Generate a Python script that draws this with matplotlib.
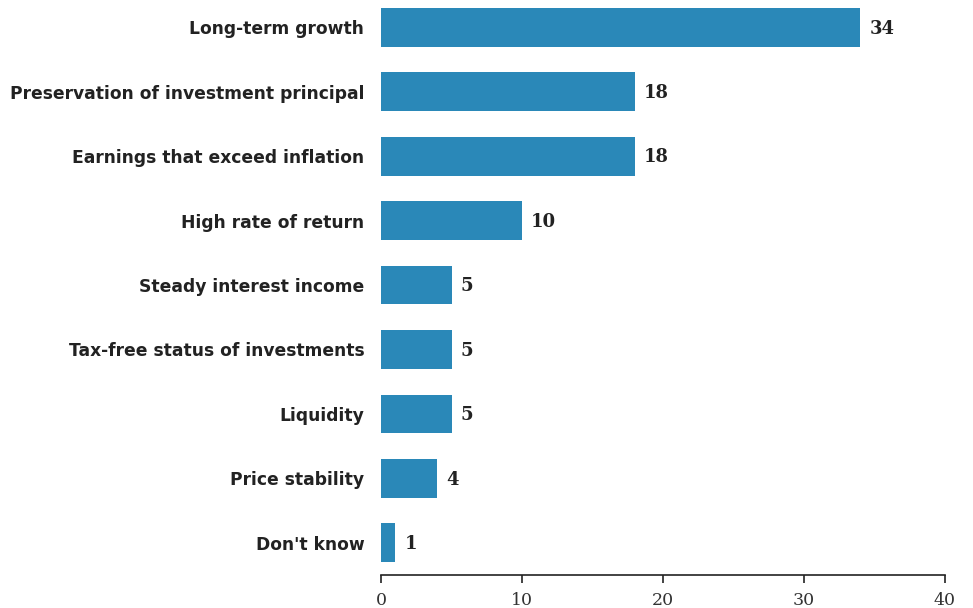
import matplotlib
matplotlib.use("Agg")
import matplotlib.pyplot as plt

categories = [
    "Long-term growth",
    "Preservation of investment principal",
    "Earnings that exceed inflation",
    "High rate of return",
    "Steady interest income",
    "Tax-free status of investments",
    "Liquidity",
    "Price stability",
    "Don't know",
]
values = [34, 18, 18, 10, 5, 5, 5, 4, 1]
x_ticks = [0, 10, 20, 30, 40]

bar_color = "#2a88b8"
text_color = "#222222"

fig = plt.figure(figsize=(9.73, 6.08), dpi=100)
ax = fig.add_axes([381 / 973, 1 - 575 / 608, (945 - 381) / 973, (575 - 8) / 608])

pos = list(range(len(categories)))
ax.barh(pos, values, height=0.6, color=bar_color)

for p, v in zip(pos, values):
    ax.text(v + 0.65, p + 0.02, str(v), va="center", ha="left",
            fontsize=13, fontweight="heavy", family="DejaVu Serif",
            color=text_color)

ax.set_ylim(8.5, -0.3)
ax.set_xlim(0, 40)
ax.set_yticks(pos)
ax.set_yticklabels(categories, fontsize=12.3, fontweight="bold",
                   family="DejaVu Sans", color=text_color)
ax.tick_params(axis="y", length=0, pad=12)

ax.set_xticks(x_ticks)
ax.set_xticklabels([str(t) for t in x_ticks], family="DejaVu Serif",
                   fontsize=12.5, color="#333333")
ax.tick_params(axis="x", direction="out", length=6, width=1.2, color=text_color, pad=6)

for s in ["top", "right", "left"]:
    ax.spines[s].set_visible(False)
ax.spines["bottom"].set_color(text_color)
ax.spines["bottom"].set_linewidth(1.2)

fig.savefig("out.png", dpi=100)
